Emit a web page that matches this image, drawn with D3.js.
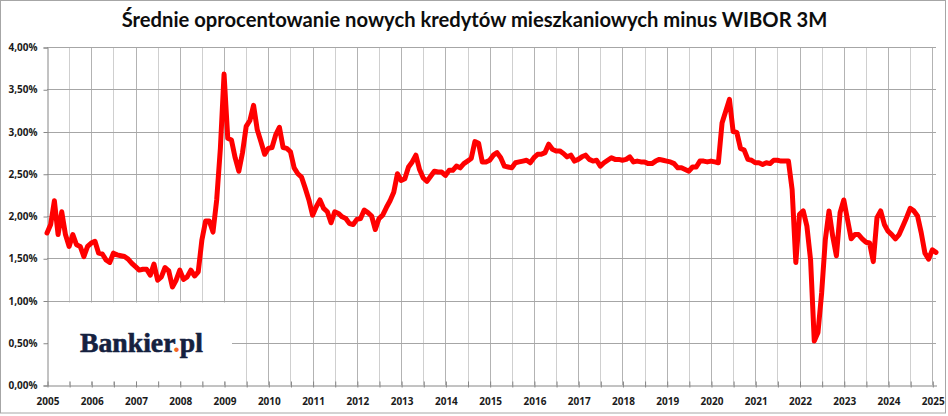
<!DOCTYPE html>
<html>
<head>
<meta charset="utf-8">
<script src="https://cdn.jsdelivr.net/npm/d3@7"></script>
<style>
  html, body { margin: 0; padding: 0; background: #fff; }
  svg { display: block; }
</style>
</head>
<body>
<svg id="chart" width="948" height="416"></svg>
<script>
// tytuł i dane (miesięcznie od 01.2005)
const title = "Średnie oprocentowanie nowych kredytów mieszkaniowych minus WIBOR 3M";
const startYear = 2005;
const yearLabels = ["2005", "2006", "2007", "2008", "2009", "2010", "2011", "2012", "2013", "2014",
  "2015", "2016", "2017", "2018", "2019", "2020", "2021", "2022", "2023", "2024", "2025"];
const yTicks = [0, 0.5, 1, 1.5, 2, 2.5, 3, 3.5, 4];

// marża ponad WIBOR 3M, w %
const spread = [
  1.80, 1.90, 2.18, 1.78, 2.05, 1.78, 1.64, 1.78, 1.66, 1.64, 1.52, 1.64, // 2005
  1.68, 1.70, 1.56, 1.55, 1.48, 1.45, 1.56, 1.54, 1.53, 1.52, 1.49, 1.44, // 2006
  1.40, 1.36, 1.37, 1.37, 1.30, 1.43, 1.24, 1.28, 1.39, 1.35, 1.16, 1.24, // 2007
  1.36, 1.25, 1.28, 1.36, 1.29, 1.34, 1.72, 1.94, 1.94, 1.81, 2.19, 2.80, // 2008
  3.68, 2.92, 2.90, 2.69, 2.53, 2.75, 3.06, 3.13, 3.31, 3.02, 2.88, 2.73, // 2009
  2.80, 2.81, 2.96, 3.05, 2.81, 2.80, 2.76, 2.57, 2.50, 2.46, 2.33, 2.19, // 2010
  2.01, 2.11, 2.19, 2.09, 2.05, 1.92, 2.05, 2.03, 1.99, 1.97, 1.91, 1.90, // 2011
  1.96, 1.97, 2.07, 2.04, 2.00, 1.84, 1.97, 2.01, 2.10, 2.18, 2.28, 2.50, // 2012
  2.42, 2.44, 2.58, 2.64, 2.72, 2.55, 2.45, 2.41, 2.47, 2.53, 2.52, 2.52, // 2013
  2.48, 2.54, 2.54, 2.59, 2.57, 2.62, 2.65, 2.68, 2.88, 2.86, 2.64, 2.64, // 2014
  2.66, 2.72, 2.75, 2.69, 2.59, 2.58, 2.57, 2.63, 2.64, 2.65, 2.66, 2.63, // 2015
  2.69, 2.73, 2.73, 2.75, 2.85, 2.79, 2.77, 2.77, 2.74, 2.70, 2.72, 2.65, // 2016
  2.67, 2.70, 2.72, 2.67, 2.65, 2.66, 2.59, 2.63, 2.66, 2.69, 2.67, 2.67, // 2017
  2.66, 2.67, 2.70, 2.64, 2.65, 2.64, 2.64, 2.62, 2.62, 2.65, 2.67, 2.66, // 2018
  2.65, 2.64, 2.62, 2.57, 2.57, 2.55, 2.53, 2.58, 2.58, 2.65, 2.65, 2.64, // 2019
  2.65, 2.64, 2.63, 3.10, 3.24, 3.38, 3.00, 2.99, 2.80, 2.78, 2.67, 2.66, // 2020
  2.63, 2.63, 2.61, 2.63, 2.62, 2.66, 2.66, 2.65, 2.65, 2.65, 2.31, 1.45, // 2021
  2.02, 2.06, 1.88, 1.48, 0.52, 0.62, 1.09, 1.72, 2.06, 1.76, 1.53, 2.04, // 2022
  2.19, 1.96, 1.73, 1.78, 1.78, 1.73, 1.69, 1.68, 1.46, 1.98, 2.06, 1.90, // 2023
  1.82, 1.78, 1.73, 1.78, 1.88, 1.98, 2.09, 2.06, 2.00, 1.80, 1.56, 1.49, // 2024
  1.60, 1.57                                                              // 2025
];

const W = 948, H = 416;
const plot = { left: 47, right: 936, top: 47, bottom: 385 };
const labelFont = "'Open Sans', 'DejaVu Sans', sans-serif";

const svg = d3.select("#chart");

// ramka całego wykresu
svg.append("rect")
  .attr("x", 0.5).attr("y", 0.5)
  .attr("width", W - 3).attr("height", H - 3.5)
  .attr("fill", "#fff")
  .attr("stroke", "#a6a6a6");

const x = d3.scaleLinear().domain([0, spread.length - 1]).range([plot.left, plot.right]);
const y = d3.scaleLinear().domain([0, 4]).range([plot.bottom, plot.top]);

// co pół roku linia siatki
const halfYears = d3.range(0, spread.length, 6);

const grid = svg.append("g");
grid.selectAll("line.v")
  .data(halfYears.filter(m => m > 0))
  .join("line")
  .attr("class", "v")
  .attr("x1", m => Math.round(x(m)) + 0.5).attr("x2", m => Math.round(x(m)) + 0.5)
  .attr("y1", plot.top).attr("y2", plot.bottom)
  .attr("stroke", m => m % 12 === 0 ? "#b3b3b3" : "#cfcfcf")
  .attr("stroke-width", 1);

grid.selectAll("line.h")
  .data(yTicks.filter(t => t > 0))
  .join("line")
  .attr("class", "h")
  .attr("x1", plot.left).attr("x2", plot.right)
  .attr("y1", t => Math.round(y(t)) + 0.5).attr("y2", t => Math.round(y(t)) + 0.5)
  .attr("stroke", "#a6a6a6")
  .attr("stroke-width", 1);

// białe pole pod logo
svg.append("rect")
  .attr("x", plot.left + 1).attr("y", Math.round(y(1)) + 1.5)
  .attr("width", 184).attr("height", 79)
  .attr("fill", "#fff");

// oś Y
const fmtPct = v => d3.format(".2f")(v).replace(".", ",") + "%";
const yAxis = svg.append("g")
  .attr("transform", `translate(${plot.left + 0.5},0.5)`)
  .call(d3.axisLeft(y).tickValues(yTicks).tickFormat(fmtPct).tickSize(4).tickPadding(6));
yAxis.select(".domain").attr("stroke", "#868686");
yAxis.selectAll(".tick line").attr("stroke", "#868686");
yAxis.selectAll(".tick text")
  .attr("font-family", labelFont).attr("font-size", 10).attr("font-weight", 700)
  .attr("fill", "#1a1a1a");

// oś X: znaczniki co pół roku, etykiety co rok
const xAxis = svg.append("g")
  .attr("transform", `translate(0.5,${plot.bottom + 0.5})`)
  .call(d3.axisBottom(x)
    .tickValues(halfYears)
    .tickFormat(m => m % 12 === 0 ? yearLabels[m / 12] : "")
    .tickSizeInner(-4).tickSizeOuter(0).tickPadding(12));
xAxis.select(".domain").attr("stroke", "#868686");
xAxis.selectAll(".tick line").attr("stroke", "#868686").attr("y1", 2);
xAxis.selectAll(".tick text")
  .attr("font-family", labelFont).attr("font-size", 10).attr("font-weight", 700)
  .attr("fill", "#1a1a1a");

// seria
const line = d3.line()
  .x((d, i) => x(i))
  .y(d => y(d));

svg.append("path")
  .datum(spread)
  .attr("d", line)
  .attr("fill", "none")
  .attr("stroke", "#ff0000")
  .attr("stroke-width", 5)
  .attr("stroke-linejoin", "round")
  .attr("stroke-linecap", "round");

// tytuł
function fitWidth(sel, target) {
  const size = parseFloat(sel.attr("font-size"));
  const w = sel.node().getComputedTextLength();
  sel.attr("font-size", (size * target / w).toFixed(2));
}

const t = svg.append("text")
  .attr("x", 474.5).attr("y", 27)
  .attr("text-anchor", "middle")
  .attr("font-family", "Lato, 'Open Sans', sans-serif")
  .attr("font-size", 18).attr("font-weight", 700)
  .attr("fill", "#0d0d0d")
  .text(title);
fitWidth(t, 706);

// logo Bankier.pl
const logo = svg.append("text")
  .attr("x", 80).attr("y", 352)
  .attr("font-family", "'Liberation Serif', 'DejaVu Serif', serif")
  .attr("font-size", 27).attr("font-weight", 700)
  .attr("fill", "#15213f")
  .attr("stroke", "#15213f").attr("stroke-width", 0.6);
logo.append("tspan").text("Bankier");
logo.append("tspan").attr("fill", "#f26522").attr("stroke", "none").text(".");
logo.append("tspan").text("pl");
fitWidth(logo, 123);
</script>
</body>
</html>
